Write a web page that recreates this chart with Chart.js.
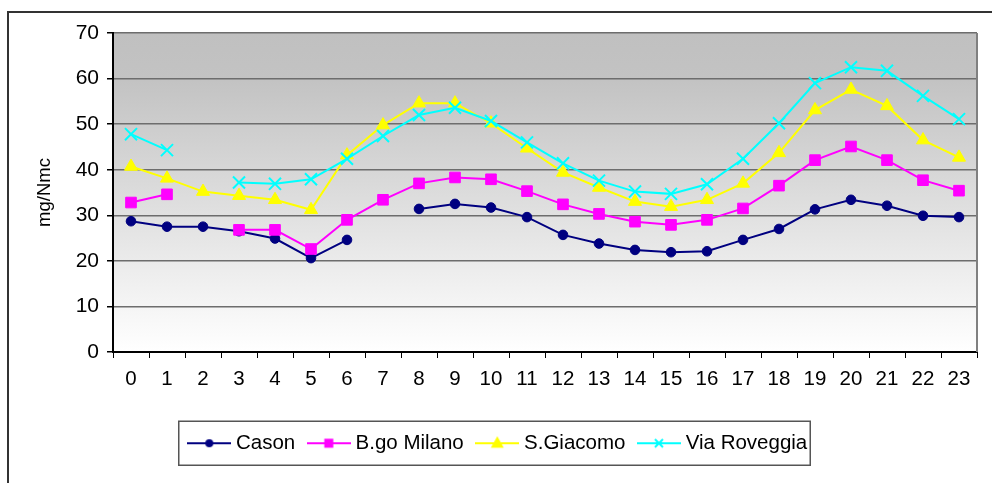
<!DOCTYPE html>
<html>
<head>
<title>Concentrazioni orarie</title>
<meta charset="UTF-8">
<script src="https://cdn.jsdelivr.net/npm/chart.js"></script>
<style>
  body { margin: 0; background: #fff; }
  #wrap { position: relative; width: 992px; height: 483px; overflow: hidden; }
  #frame { position: absolute; left: 7px; top: 11px; width: 1100px; height: 600px;
           border-left: 2px solid #333; border-top: 2px solid #333; }
  canvas { position: absolute; left: 0; top: 0; }
</style>
</head>
<body>
<div id="wrap">
  <div id="frame"></div>
  <canvas id="chart" width="992" height="483"></canvas>
</div>
<script>
// hourly averages, mg/Nmc
const hours = ['0','1','2','3','4','5','6','7','8','9','10','11','12','13','14','15','16','17','18','19','20','21','22','23'];
const cason    = [28.7, 27.5, 27.5, 26.5, 24.9, 20.6, 24.6, null, 31.4, 32.5, 31.7, 29.6, 25.7, 23.8, 22.4, 21.9, 22.1, 24.6, 27.0, 31.3, 33.4, 32.1, 29.9, 29.6];
const milano   = [32.8, 34.6, null, 26.8, 26.8, 22.6, 29.0, 33.4, 37.0, 38.3, 37.9, 35.3, 32.4, 30.3, 28.6, 27.9, 29.0, 31.5, 36.5, 42.1, 45.1, 42.1, 37.7, 35.4];
const giacomo  = [40.7, 38.1, 35.2, 34.3, 33.4, 31.2, 43.2, 49.8, 54.6, 54.6, 50.2, 44.7, 39.4, 36.1, 33.0, 31.9, 33.4, 37.0, 43.7, 53.1, 57.6, 54.0, 46.5, 42.7];
const roveggia = [47.8, 44.3, null, 37.2, 36.9, 37.9, 42.4, 47.4, 52.0, 53.6, 50.7, 46.0, 41.4, 37.6, 35.2, 34.7, 36.8, 42.4, 50.2, 59.0, 62.5, 61.7, 56.2, 51.1];
const yTicks = [0, 10, 20, 30, 40, 50, 60, 70];

const FONT = '"Liberation Sans", Arial, sans-serif';
Chart.defaults.font.family = FONT;
Chart.defaults.color = '#000';

// small line+marker swatches for the legend
function swatch(color, kind) {
  const c = document.createElement('canvas');
  c.width = 44; c.height = 20;
  const g = c.getContext('2d');
  g.strokeStyle = color; g.fillStyle = color; g.lineWidth = 2;
  g.beginPath(); g.moveTo(0, 10); g.lineTo(44, 10); g.stroke();
  g.beginPath();
  if (kind === 'circle') { g.arc(22, 10, 4, 0, Math.PI * 2); g.fill(); }
  if (kind === 'rect') { g.fillRect(17.5, 5.5, 9, 9); }
  if (kind === 'triangle') { g.moveTo(22, 3); g.lineTo(28.5, 14.5); g.lineTo(15.5, 14.5); g.closePath(); g.fill(); }
  if (kind === 'cross') { g.moveTo(18, 6); g.lineTo(26, 14); g.moveTo(26, 6); g.lineTo(18, 14); g.stroke(); }
  return c;
}
const icons = [
  swatch('#000080', 'circle'),
  swatch('#ff00ff', 'rect'),
  swatch('#ffff00', 'triangle'),
  swatch('#00ffff', 'cross')
];

const plotDecor = {
  id: 'plotDecor',
  beforeDraw(chart) {
    const {ctx, chartArea: a} = chart;
    const grad = ctx.createLinearGradient(0, a.top, 0, a.bottom);
    grad.addColorStop(0, '#c0c0c0');
    grad.addColorStop(0.15, '#c3c3c3');
    grad.addColorStop(1, '#ffffff');
    ctx.save();
    ctx.fillStyle = grad;
    ctx.fillRect(a.left, a.top, a.right - a.left, a.bottom - a.top);
    ctx.restore();
  },
  beforeDatasetsDraw(chart) {
    const {ctx, chartArea: a} = chart;
    ctx.save();
    ctx.strokeStyle = '#808080';
    ctx.lineWidth = 2;
    ctx.beginPath();
    ctx.moveTo(a.right, a.top);
    ctx.lineTo(a.right, a.bottom);
    ctx.stroke();
    ctx.restore();
  },
  afterDraw(chart) {
    const boxes = chart.legend.legendHitBoxes;
    if (!boxes || !boxes.length) return;
    const first = boxes[0], last = boxes[boxes.length - 1];
    const cy = first.top + first.height / 2;
    const left = first.left - 14;
    const right = last.left + last.width + 3;
    const ctx = chart.ctx;
    ctx.save();
    ctx.strokeStyle = '#555';
    ctx.lineWidth = 1.5;
    ctx.strokeRect(left, cy - 22, right - left, 44);
    ctx.restore();
  }
};

const ds = (label, data, color, style, radius, order) => ({
  label: label,
  data: data,
  borderColor: color,
  backgroundColor: color,
  borderWidth: 2,
  pointStyle: style,
  pointRadius: radius,
  pointHoverRadius: radius,
  pointBorderWidth: style === 'crossRot' ? 2 : 1,
  tension: 0,
  spanGaps: false,
  order: order
});

new Chart(document.getElementById('chart'), {
  type: 'line',
  data: {
    labels: hours,
    datasets: [
      ds('Cason', cason, '#000080', 'circle', 4.8, 3),
      ds('B.go Milano', milano, '#ff00ff', 'rect', 7.5, 2),
      ds('S.Giacomo', giacomo, '#ffff00', 'triangle', 7.5, 1),
      ds('Via Roveggia', roveggia, '#00ffff', 'crossRot', 8.5, 0)
    ]
  },
  options: {
    responsive: false,
    animation: false,
    layout: { padding: { top: 33, right: 15, bottom: 19.5, left: 23 } },
    scales: {
      x: {
        offset: true,
        grid: { offset: true, drawOnChartArea: false, tickColor: '#000', tickLength: 6, lineWidth: 1 },
        border: { color: '#000', width: 2 },
        ticks: { color: '#000', font: { size: 20.5 }, padding: 9, maxRotation: 0, autoSkip: false },
        afterFit(s) { s.height = 64; }
      },
      y: {
        min: yTicks[0],
        max: yTicks[yTicks.length - 1],
        afterBuildTicks(s) { s.ticks = yTicks.map(v => ({ value: v })); },
        grid: { color: '#6d6d6d', lineWidth: 1.5, tickColor: '#000', tickLength: 6 },
        border: { color: '#000', width: 2 },
        ticks: { color: '#000', font: { size: 21 }, padding: 8 },
        title: { display: true, text: 'mg/Nmc', color: '#000', font: { size: 18.5 }, padding: { top: 11, bottom: 0 } },
        afterFit(s) { s.width = 90; }
      }
    },
    plugins: {
      tooltip: { enabled: false },
      legend: {
        position: 'bottom',
        labels: {
          usePointStyle: true,
          pointStyleWidth: 33,
          padding: 17,
          color: '#000',
          font: { size: 20.5 },
          sort: (a, b) => a.datasetIndex - b.datasetIndex,
          generateLabels(chart) {
            return Chart.defaults.plugins.legend.labels.generateLabels(chart)
              .map(item => Object.assign(item, { pointStyle: icons[item.datasetIndex] }));
          }
        }
      }
    }
  },
  plugins: [plotDecor]
});
</script>
</body>
</html>
